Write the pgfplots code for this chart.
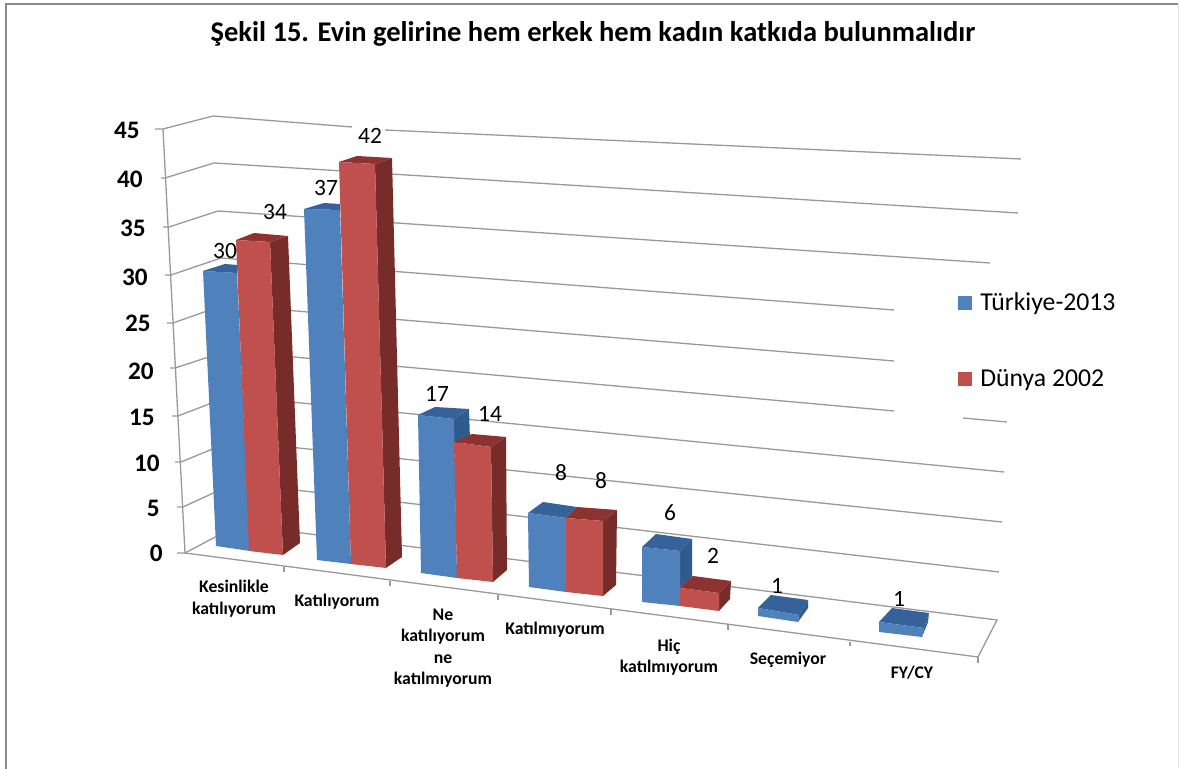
\documentclass[border=0pt]{standalone}
\usepackage{pgfplots}
\pgfplotsset{compat=1.18}
\usepackage{fontspec}
\setmainfont{Carlito}
\definecolor{bF}{HTML}{4F81BD}
\definecolor{bT}{HTML}{376299}
\definecolor{bS}{HTML}{2F5A8E}
\definecolor{rF}{HTML}{C0504D}
\definecolor{rT}{HTML}{8C3230}
\definecolor{rS}{HTML}{772C2A}
\definecolor{gl}{HTML}{999999}
\newcommand{\face}[2]{\addplot[fill=#1,draw=none,forget plot] coordinates {#2} --cycle;}
\newcommand{\gline}[1]{\addplot[gl,line width=0.65pt,forget plot] coordinates {#1};}
\begin{document}
\begin{tikzpicture}
\begin{axis}[
  scale only axis,width=590pt,height=384.5pt,
  xmin=0,xmax=1180,ymin=0,ymax=769,y dir=reverse,
  hide axis,clip=false,
  legend style={at={(axis cs:958,288)},anchor=north west,draw=none,fill=none,
    font=\fontsize{12.85}{14}\selectfont,row sep=24pt,inner sep=0pt,
    cells={anchor=west}},
  legend image code/.code={\fill[#1,draw=none] (0pt,-3.5pt) rectangle (7pt,3.5pt);},
]
% frame
\addplot[gray!90,line width=0.8pt,forget plot] coordinates {(1178,4)(6,4)(6,769)};
\addplot[gray!20,line width=0.5pt,forget plot] coordinates {(1178,4)(1178,769)};
% back-wall gridlines (45 ... 0)
\gline{(213,116)(352,127)} \gline{(385,130)(1021,159)}
\gline{(214,163)(1018,213)}
\gline{(218,211)(990,263)}
\gline{(221,258)(894,310)}
\gline{(224,305)(894,361)}
\gline{(227,351)(894,411)} \gline{(963,418)(1007,422)}
\gline{(230,396)(1004,472)}
\gline{(232,441)(1002,522)}
\gline{(235,483)(999,572)}
\gline{(238,525)(997,620)(978,657)}
% left wall
\gline{(155,129)(163,129)(213,116)}
\gline{(161,178)(165,178)(214,163)}
\gline{(163,227)(169,227)(218,211)}
\gline{(165,275)(171,275)(221,258)}
\gline{(167,323)(173,323)(224,305)}
\gline{(170,368)(175,368)(227,351)}
\gline{(172,416)(178,416)(230,396)}
\gline{(175,462)(181,462)(232,441)}
\gline{(177,507)(183,507)(235,483)}
\gline{(177,553)(185,553)(238,525)}
\gline{(163,129)(185,553)}
% floor front edge and ticks
\gline{(185,553)(978,657)}
\gline{(284,567)(284,572)} \gline{(390,581)(390,586)} \gline{(498,595)(498,600)}
\gline{(611,609)(611,615)} \gline{(728,625)(728,630)} \gline{(850,642)(850,646)}
\gline{(978,657)(978,663)}
% Bars
% cat 1
\face{bF}{(203,271)(237,273)(250,551)(216,546)}
\addlegendimage{fill=bF} \addlegendentry{\hspace{2pt}Türkiye-2013}
\addlegendimage{fill=rF} \addlegendentry{\hspace{2pt}Dünya 2002}
\face{bT}{(203,271)(225,264)(238,265)(237,273)}
\face{rS}{(270,242)(288,236)(300,543)(283,555)}
\face{rT}{(236,240)(254,233)(288,236)(270,242)}
\face{rF}{(236,240)(270,242)(283,555)(249,551)}
% cat 2
\face{bF}{(304,209)(340,210)(351,564)(317,560)}
\face{bT}{(304,209)(324,203)(340,204)(340,210)}
\face{rS}{(375,164)(392,158)(402,557)(386,568)}
\face{rT}{(339,162)(357,156)(392,158)(375,164)}
\face{rF}{(339,162)(375,164)(386,568)(351,564)}
% cat 3
\face{bS}{(454,419)(469,409)(470,440)(454,445)}
\face{bT}{(418,415)(435,407)(469,409)(454,419)}
\face{bF}{(418,415)(454,419)(457,578)(421,573)}
\face{rS}{(491,447)(506,437)(507,570)(493,582)}
\face{rT}{(454,442)(472,434)(506,437)(491,447)}
\face{rF}{(454,442)(491,447)(493,582)(457,578)}
% cat 4
\face{bT}{(528,513)(543,502)(577,507)(566,518)}
\face{bF}{(528,513)(566,518)(566,592)(529,587)}
\face{rS}{(603,521)(617,510)(616,585)(603,596)}
\face{rT}{(566,518)(577,507)(617,510)(603,521)}
\face{rF}{(566,518)(603,521)(603,596)(566,592)}
% cat 5
\face{bS}{(680,551)(692,539)(692,577)(680,588)}
\face{bT}{(642,547)(656,534)(692,539)(680,551)}
\face{bF}{(642,547)(680,551)(680,606)(642,602)}
\face{rS}{(719,593)(731,581)(730,599)(719,611)}
\face{rT}{(680,588)(693,576)(731,581)(719,593)}
\face{rF}{(680,588)(719,593)(719,611)(680,606)}
% cat 6
\face{bS}{(799,615)(808,600)(808,608)(798,622)}
\face{bT}{(758,608)(771,595)(808,600)(799,615)}
\face{bF}{(758,608)(799,615)(798,622)(758,616)}
% cat 7
\face{bS}{(924,628)(929,613)(928,622)(922,637)}
\face{bT}{(879,622)(892,608)(929,613)(924,628)}
\face{bF}{(879,622)(924,628)(922,637)(879,632)}
% data labels
\addplot[only marks,mark=none,forget plot,point meta=explicit symbolic,
  nodes near coords,
  every node near coord/.style={anchor=center,font=\fontsize{11.7}{13}\selectfont,inner sep=1pt}]
  table[x=x,y=y,meta=v,row sep=crcr]{
  x y v\\
  225 251 30\\ 275 212 34\\ 326 188 37\\ 370 136 42\\ 437 394 17\\ 490 414 14\\
  561 473 8\\ 601 481 8\\ 670 513 6\\ 713 556 2\\ 777 586 1\\ 899 599 1\\};
% value-axis labels
\addplot[only marks,mark=none,forget plot,point meta=explicit symbolic,
  nodes near coords,
  every node near coord/.style={anchor=east,font=\bfseries\fontsize{12.6}{14}\selectfont,inner sep=0pt}]
  table[x=x,y=y,meta=v,row sep=crcr]{
  x y v\\
  140 130 45\\ 143 179 40\\ 146 228 35\\ 148 277 30\\ 151 323 25\\ 154 371 20\\
  155 417 15\\ 160 463 10\\ 160 508 5\\ 163 553 0\\};
% categories
\node[align=center,font=\bfseries\fontsize{8.85}{10.75}\selectfont] at (axis cs:234,598.5) {Kesinlikle\\katılıyorum};
\node[align=center,font=\bfseries\fontsize{8.85}{10.75}\selectfont] at (axis cs:337,601.5) {Katılıyorum};
\node[align=center,font=\bfseries\fontsize{8.85}{10.75}\selectfont] at (axis cs:443,648) {Ne\\katılıyorum\\ne\\katılmıyorum};
\node[align=center,font=\bfseries\fontsize{8.85}{10.75}\selectfont] at (axis cs:555,630) {Katılmıyorum};
\node[align=center,font=\bfseries\fontsize{8.85}{10.75}\selectfont] at (axis cs:669,657) {Hiç\\katılmıyorum};
\node[align=center,font=\bfseries\fontsize{8.85}{10.75}\selectfont] at (axis cs:788,660) {Seçemiyor};
\node[align=center,font=\bfseries\fontsize{8.85}{10.75}\selectfont] at (axis cs:912,673) {FY/CY};
% title
\node[font=\bfseries\fontsize{14.26}{16}\selectfont] at (axis cs:593,34) {Şekil 15. Evin gelirine hem erkek hem kadın katkıda bulunmalıdır};
\end{axis}
\pgfresetboundingbox
\useasboundingbox (0,0) rectangle (590pt,384.5pt);
\end{tikzpicture}
\end{document}
